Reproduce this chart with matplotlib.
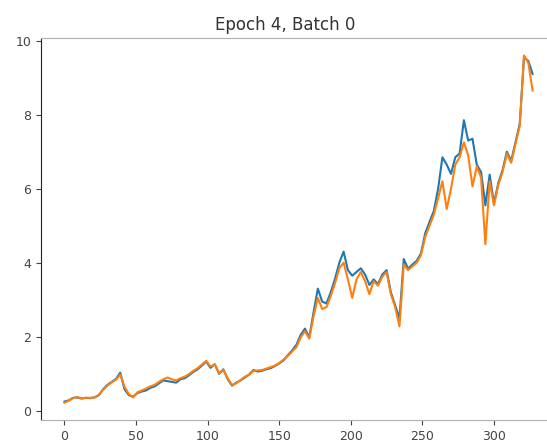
import matplotlib
matplotlib.use("Agg")
import matplotlib.pyplot as plt

# sampled step positions and the two traces (actual vs predicted)
steps = list(range(0, 330, 3))
actual = [
    0.25, 0.28, 0.35, 0.36, 0.33, 0.35, 0.34, 0.36, 0.42, 0.58,
    0.70, 0.78, 0.86, 1.03, 0.58, 0.42, 0.38, 0.48, 0.52, 0.55,
    0.62, 0.66, 0.74, 0.82, 0.80, 0.78, 0.76, 0.85, 0.88, 0.96,
    1.05, 1.12, 1.22, 1.33, 1.16, 1.26, 1.00, 1.12, 0.86, 0.68,
    0.76, 0.82, 0.90, 0.98, 1.10, 1.06, 1.08, 1.12, 1.15, 1.21,
    1.28, 1.36, 1.50, 1.63, 1.78, 2.05, 2.22, 1.98, 2.66, 3.30,
    2.95, 2.90, 3.20, 3.57, 4.00, 4.30, 3.80, 3.65, 3.75, 3.85,
    3.68, 3.40, 3.55, 3.42, 3.68, 3.80, 3.20, 2.85, 2.50, 4.10,
    3.84, 3.95, 4.05, 4.25, 4.80, 5.10, 5.40, 6.00, 6.85, 6.65,
    6.40, 6.85, 6.95, 7.85, 7.30, 7.35, 6.65, 6.45, 5.55, 6.38,
    5.60, 6.15, 6.50, 7.00, 6.75, 7.25, 7.75, 9.55, 9.45, 9.10,
]
predicted = [
    0.22, 0.27, 0.34, 0.37, 0.34, 0.35, 0.35, 0.36, 0.43, 0.57,
    0.68, 0.77, 0.84, 0.98, 0.65, 0.45, 0.36, 0.50, 0.55, 0.60,
    0.66, 0.70, 0.78, 0.85, 0.90, 0.85, 0.82, 0.88, 0.92, 0.99,
    1.08, 1.15, 1.25, 1.35, 1.20, 1.25, 1.02, 1.10, 0.88, 0.70,
    0.74, 0.83, 0.92, 0.97, 1.08, 1.09, 1.10, 1.14, 1.18, 1.22,
    1.29, 1.38, 1.48, 1.60, 1.72, 1.98, 2.15, 1.95, 2.55, 3.05,
    2.75, 2.80, 3.10, 3.45, 3.85, 4.00, 3.55, 3.05, 3.55, 3.75,
    3.50, 3.15, 3.50, 3.38, 3.62, 3.75, 3.15, 2.80, 2.28, 3.95,
    3.80, 3.90, 4.00, 4.20, 4.70, 5.00, 5.30, 5.75, 6.20, 5.45,
    6.00, 6.65, 6.85, 7.25, 6.90, 6.06, 6.60, 6.30, 4.50, 6.20,
    5.55, 6.10, 6.45, 6.95, 6.70, 7.20, 7.70, 9.60, 9.40, 8.65,
]

fig = plt.figure(figsize=(5.47, 4.48), dpi=100)
ax = fig.add_axes([0.075, 0.0625, 0.9415, 0.8525])

ax.plot(steps, actual, color="C0", lw=1.5)
ax.plot(steps, predicted, color="C1", lw=1.5)

ax.set_yticks([0, 2, 4, 6, 8, 10])
ax.set_xticks([0, 50, 100, 150, 200, 250, 300])
ax.tick_params(labelsize=9, colors="#444444")

ax.spines["left"].set_color("#222222")
for side in ("top", "bottom"):
    ax.spines[side].set_color("#b0b0b0")

ax.set_title("Epoch 4, Batch 0", x=0.474, color="#333333")

fig.savefig("out.png", dpi=100)
